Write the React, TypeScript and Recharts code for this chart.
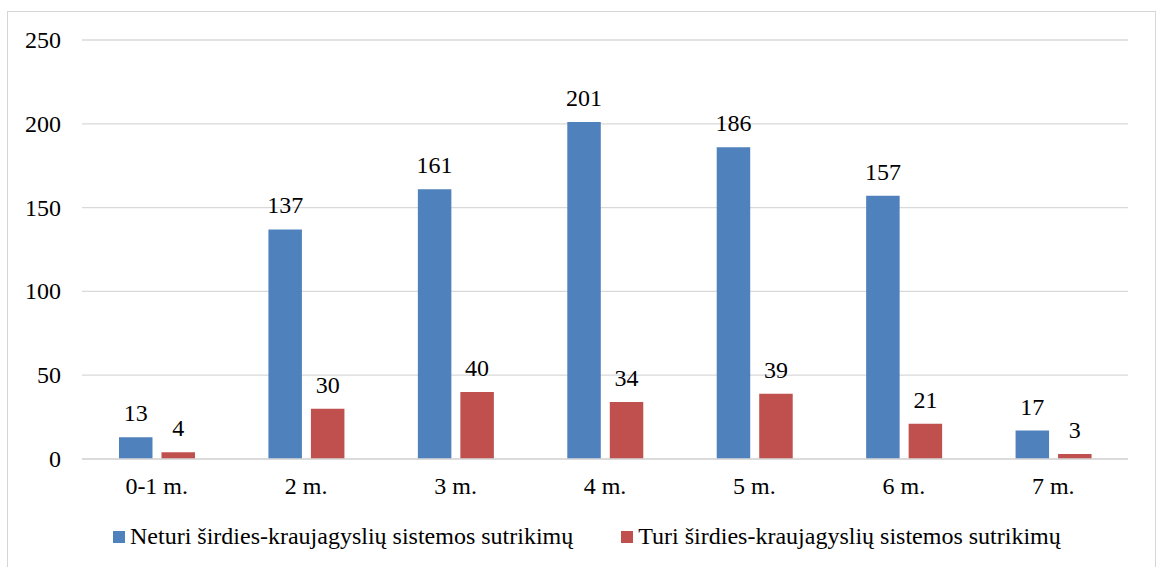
import React from 'react';
import { BarChart, Bar, XAxis, YAxis, CartesianGrid, LabelList, Legend } from 'recharts';

const categories = ['0-1 m.', '2 m.', '3 m.', '4 m.', '5 m.', '6 m.', '7 m.'];
const neturi = [13, 137, 161, 201, 186, 157, 17];
const turi = [4, 30, 40, 34, 39, 21, 3];
const yTicks = [0, 50, 100, 150, 200, 250];
const seriesNames = [
  'Neturi širdies-kraujagyslių sistemos sutrikimų',
  'Turi širdies-kraujagyslių sistemos sutrikimų',
];
const colors = ['#4f81bd', '#c0504d'];

const data = categories.map((c, i) => ({ name: c, neturi: neturi[i], turi: turi[i] }));

const FONT = 'Liberation Serif';

const XTick = (props: any) => {
  const { x, y, payload } = props;
  return (
    <text x={x} y={y + 17} textAnchor="middle" fill="#000" fontSize={24} fontFamily={FONT} style={{ fontFamily: FONT }}>
      {payload.value}
    </text>
  );
};

const YTick = (props: any) => {
  const { x, y, payload } = props;
  return (
    <text x={x} y={y + 8} textAnchor="end" fill="#000" fontSize={24} fontFamily={FONT} style={{ fontFamily: FONT }}>
      {payload.value}
    </text>
  );
};

const TopLabel = (props: any) => {
  const { x, y, width, value } = props;
  return (
    <text x={x + width / 2} y={y - 16} textAnchor="middle" fill="#000" fontSize={24} fontFamily={FONT} style={{ fontFamily: FONT }}>
      {value}
    </text>
  );
};

const LegendContent = () => (
  <div style={{ display: 'flex', alignItems: 'center', fontFamily: FONT, fontSize: 24, lineHeight: '26px', color: '#000', whiteSpace: 'nowrap' }}>
    {seriesNames.map((n, i) => (
      <div key={n} style={{ display: 'flex', alignItems: 'center', marginRight: i === 0 ? 48 : 0 }}>
        <span style={{ display: 'inline-block', width: 12, height: 12, background: colors[i], marginRight: 5, marginTop: 1 }} />
        <span>{n}</span>
      </div>
    ))}
  </div>
);

export default function App() {
  return (
    <div style={{ position: 'absolute', left: 0, top: 0, width: 1159, height: 567, overflow: 'hidden', background: '#fff', fontFamily: FONT }}>
      <div style={{ position: 'absolute', left: 7, top: 11, width: 1149, height: 600, border: '1px solid #d6d6d6', boxSizing: 'border-box' }} />
      <BarChart
        width={1159}
        height={567}
        data={data}
        margin={{ top: 40, right: 31, left: 0, bottom: 78 }}
        barSize={33.5}
        barGap={9}
        style={{ position: 'absolute', left: 0, top: 0 }}
      >
        <CartesianGrid vertical={false} stroke="#d9d9d9" strokeWidth={1.3} />
        <XAxis
          dataKey="name"
          height={30}
          axisLine={{ stroke: '#d9d9d9', strokeWidth: 1.3 }}
          tickLine={false}
          tickSize={0}
          tickMargin={18}
          tick={<XTick />}
        />
        <YAxis
          width={82}
          domain={[0, 250]}
          ticks={yTicks}
          axisLine={false}
          tickLine={false}
          tickSize={0}
          tickMargin={21}
          tick={<YTick />}
        />
        <Legend
          layout="horizontal"
          verticalAlign="middle"
          align="center"
          content={<LegendContent />}
          wrapperStyle={{ position: 'absolute', left: 113, top: 523, width: 'auto' }}
        />
        <Bar dataKey="neturi" name={seriesNames[0]} fill={colors[0]} isAnimationActive={false}>
          <LabelList dataKey="neturi" content={<TopLabel />} />
        </Bar>
        <Bar dataKey="turi" name={seriesNames[1]} fill={colors[1]} isAnimationActive={false}>
          <LabelList dataKey="turi" content={<TopLabel />} />
        </Bar>
      </BarChart>
    </div>
  );
}
